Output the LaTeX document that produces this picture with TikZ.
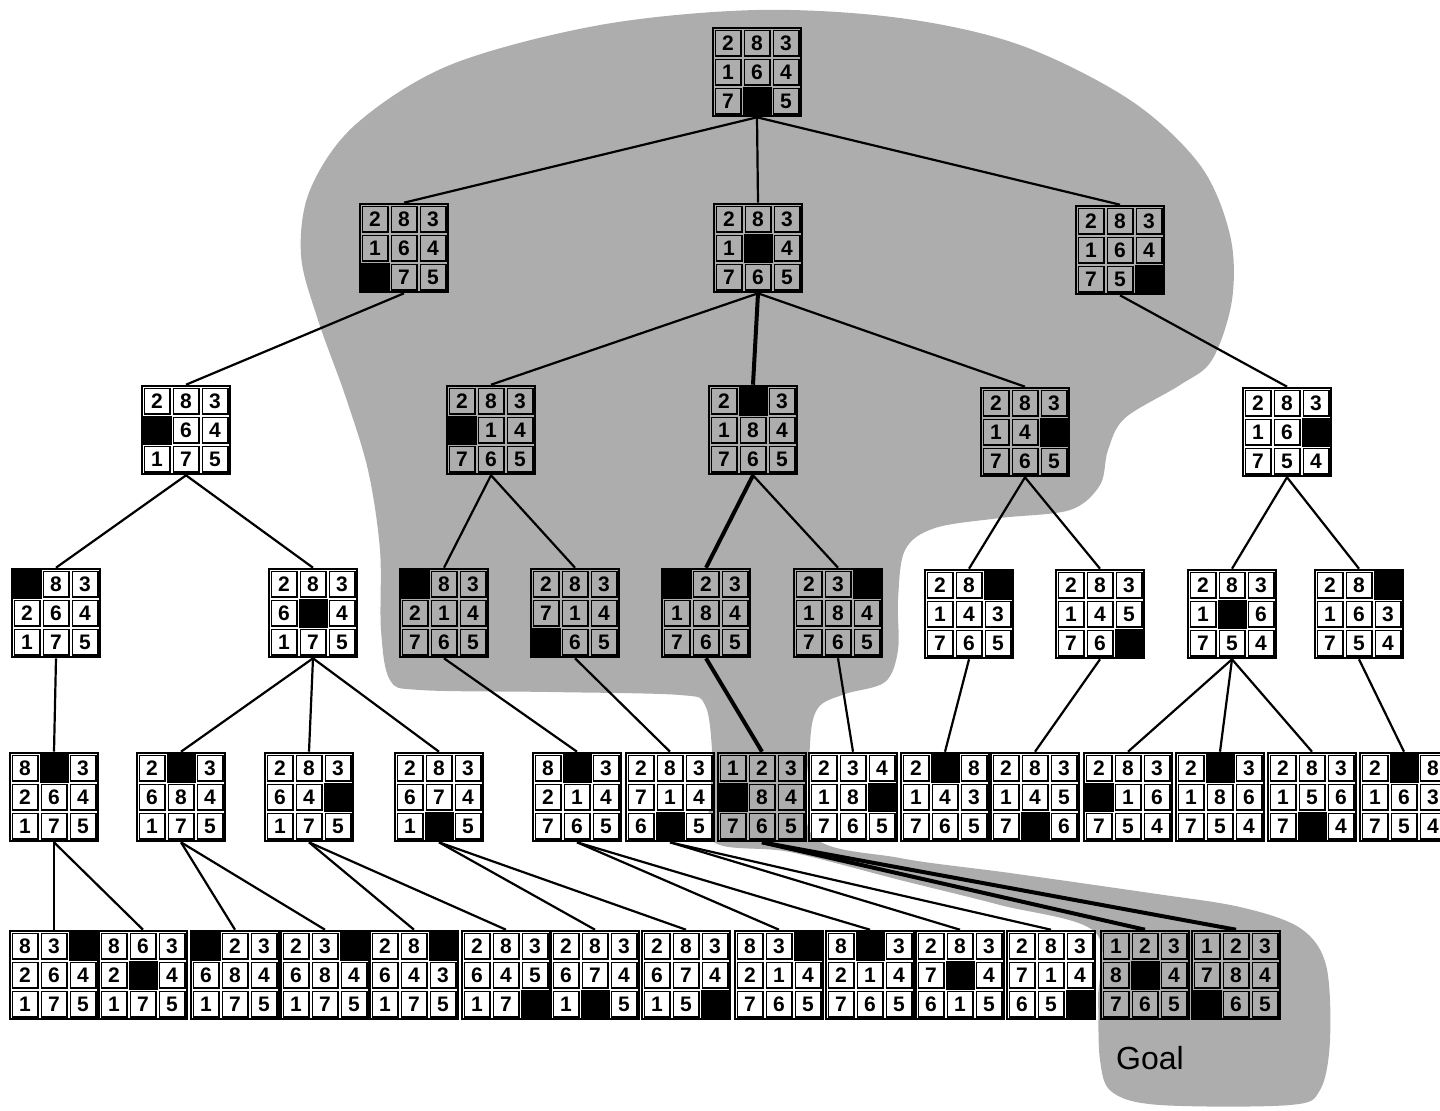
\documentclass[tikz,border=0pt]{standalone}
\usepackage{fontspec}
\setmainfont{Liberation Sans}

% one 8-puzzle board: [cell style]{name}{centre}{nine digits, 0 = empty}
\newcommand{\puz}[4][cell]{%
  \node[board] (#2) at (#3) {};
  \foreach \d [count=\i from 0] in {#4}{%
    \pgfmathtruncatemacro{\cx}{mod(\i,3)-1}%
    \pgfmathtruncatemacro{\cy}{int(\i/3)-1}%
    \ifnum\d=0
      \node[blank] at ([shift={(\cx*29,\cy*29)}]#2.center) {};
    \else
      \node[#1] at ([shift={(\cx*29,\cy*29)}]#2.center) {\d};
    \fi
  }%
}

\begin{document}
\begin{tikzpicture}[x=0.5pt,y=-0.5pt,
  board/.style={draw=black,line width=1.3pt,minimum size=44pt,inner sep=0pt},
  cell/.style={draw=black,line width=0.7pt,fill=white,minimum size=12.8pt,inner sep=0pt,font=\fontsize{10.5}{11}\selectfont\bfseries},
  gcell/.style={cell,fill=none},
  blank/.style={fill=black,minimum size=14.5pt,inner sep=0pt},
  blob/.style={fill=black!32},
  link/.style={line width=1.1pt},
  solution/.style={line width=2pt}]
\useasboundingbox (0,0) rectangle (1440,1110);

% explored region
\fill[blob] plot[smooth cycle,tension=0.55] coordinates {
  (757,10) (900,18) (1020,45) (1130,100) (1200,165) (1230,235) (1232,300)
  (1212,360) (1180,385) (1125,418) (1108,450) (1100,485) (1070,510)
  (1000,518) (935,528) (905,550) (898,600) (898,650) (885,682) (845,694)
  (818,708) (810,745) (812,835) (900,858) (1010,873) (1150,893) (1240,907)
  (1300,928) (1326,965) (1330,1040) (1320,1090) (1290,1105) (1160,1105)
  (1112,1092) (1100,1060) (1098,1000) (1095,932) (1000,905) (900,880)
  (790,852) (714,842) (711,790) (712,750) (705,705) (680,695) (550,692)
  (420,690) (390,680) (381,630) (380,550) (368,470) (345,395)
  (318,320) (301,255) (310,190) (355,125) (450,65) (600,25)};

% level 0-2
\puz[gcell]{a}{757,72}{2,8,3,1,6,4,7,0,5}
\puz[gcell]{b1}{404,248}{2,8,3,1,6,4,0,7,5}
\puz[gcell]{b2}{758,248}{2,8,3,1,0,4,7,6,5}
\puz[gcell]{b3}{1120,250}{2,8,3,1,6,4,7,5,0}

% level 3
\puz{c1}{186,430}{2,8,3,0,6,4,1,7,5}
\puz[gcell]{c2}{491,430}{2,8,3,0,1,4,7,6,5}
\puz[gcell]{c3}{753,430}{2,0,3,1,8,4,7,6,5}
\puz[gcell]{c4}{1025,432}{2,8,3,1,4,0,7,6,5}
\puz{c5}{1287,432}{2,8,3,1,6,0,7,5,4}

% level 4
\puz{d1}{56,613}{0,8,3,2,6,4,1,7,5}
\puz{d2}{313,613}{2,8,3,6,0,4,1,7,5}
\puz[gcell]{d3}{444,613}{0,8,3,2,1,4,7,6,5}
\puz[gcell]{d4}{575,613}{2,8,3,7,1,4,0,6,5}
\puz[gcell]{d5}{706,613}{0,2,3,1,8,4,7,6,5}
\puz[gcell]{d6}{838,613}{2,3,0,1,8,4,7,6,5}
\puz{d7}{969,614}{2,8,0,1,4,3,7,6,5}
\puz{d8}{1100,614}{2,8,3,1,4,5,7,6,0}
\puz{d9}{1232,614}{2,8,3,1,0,6,7,5,4}
\puz{d10}{1359,614}{2,8,0,1,6,3,7,5,4}

% level 5
\puz{e1}{54,797}{8,0,3,2,6,4,1,7,5}
\puz{e2}{181,797}{2,0,3,6,8,4,1,7,5}
\puz{e3}{309,797}{2,8,3,6,4,0,1,7,5}
\puz{e4}{439,797}{2,8,3,6,7,4,1,0,5}
\puz{e5}{577,797}{8,0,3,2,1,4,7,6,5}
\puz{e6}{670,797}{2,8,3,7,1,4,6,0,5}
\puz[gcell]{e7}{762,797}{1,2,3,0,8,4,7,6,5}
\puz{e8}{853,797}{2,3,4,1,8,0,7,6,5}
\puz{e9}{945,797}{2,0,8,1,4,3,7,6,5}
\puz{e10}{1035,797}{2,8,3,1,4,5,7,0,6}
\puz{e11}{1128,797}{2,8,3,0,1,6,7,5,4}
\puz{e12}{1220,797}{2,0,3,1,8,6,7,5,4}
\puz{e13}{1312,797}{2,8,3,1,5,6,7,0,4}
\puz{e14}{1404,797}{2,0,8,1,6,3,7,5,4}

% level 6
\puz{f1}{54,975}{8,3,0,2,6,4,1,7,5}
\puz{f2}{143,975}{8,6,3,2,0,4,1,7,5}
\puz{f3}{235,975}{0,2,3,6,8,4,1,7,5}
\puz{f4}{325,975}{2,3,0,6,8,4,1,7,5}
\puz{f5}{414,975}{2,8,0,6,4,3,1,7,5}
\puz{f6}{506,975}{2,8,3,6,4,5,1,7,0}
\puz{f7}{595,975}{2,8,3,6,7,4,1,0,5}
\puz{f8}{686,975}{2,8,3,6,7,4,1,5,0}
\puz{f9}{779,975}{8,3,0,2,1,4,7,6,5}
\puz{f10}{870,975}{8,0,3,2,1,4,7,6,5}
\puz{f11}{960,975}{2,8,3,7,0,4,6,1,5}
\puz{f12}{1051,975}{2,8,3,7,1,4,6,5,0}
\puz[gcell]{f13}{1145,975}{1,2,3,8,0,4,7,6,5}
\puz[gcell]{f14}{1236,975}{1,2,3,7,8,4,0,6,5}

\node[font=\fontsize{16}{18}\selectfont] (goal) at (1150,1058) {Goal};

% tree edges
\foreach \p/\c in {a/b1,a/b2,a/b3,b1/c1,b2/c2,b2/c4,b3/c5,
    c1/d1,c1/d2,c2/d3,c2/d4,c3/d6,c4/d7,c4/d8,c5/d9,c5/d10,
    d1/e1,d2/e2,d2/e3,d2/e4,d3/e5,d4/e6,d6/e8,d7/e9,d8/e10,
    d9/e11,d9/e12,d9/e13,d10/e14,
    e1/f1,e1/f2,e2/f3,e2/f4,e3/f5,e3/f6,e4/f7,e4/f8,
    e5/f9,e5/f10,e6/f11,e6/f12}
  \draw[link] (\p.south) -- (\c.north);
% path to the goal
\foreach \p/\c in {b2/c3,c3/d5,d5/e7,e7/f13,e7/f14}
  \draw[solution] (\p.south) -- (\c.north);
\end{tikzpicture}
\end{document}
